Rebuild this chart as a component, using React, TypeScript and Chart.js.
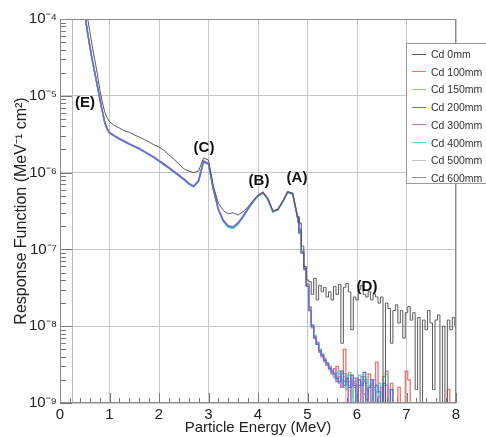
import React, { useEffect, useRef } from "react";
import { Chart, registerables } from "chart.js";

Chart.register(...registerables);

// Bin centres (MeV)
const energies = [
  0.4, 0.45, 0.5, 0.55, 0.6, 0.65, 0.7, 0.75, 0.8, 0.85, 0.9, 0.95, 1.0,
  1.1, 1.2, 1.3, 1.4, 1.5, 1.6, 1.7, 1.8, 1.9, 2.0,
  2.1, 2.2, 2.3, 2.4, 2.5, 2.6, 2.7, 2.8, 2.9, 3.0,
  3.1, 3.2, 3.3, 3.4, 3.5, 3.6, 3.7, 3.8, 3.9, 4.0,
  4.1, 4.2, 4.3, 4.4, 4.5, 4.6, 4.7, 4.8,
  4.85, 4.9, 4.95,
  5.0, 5.05, 5.1, 5.15, 5.2, 5.25, 5.3, 5.35, 5.4, 5.45,
  5.5, 5.55, 5.6, 5.65, 5.7, 5.75, 5.8, 5.85, 5.9, 5.95,
  6.0, 6.05, 6.1, 6.15, 6.2, 6.25, 6.3, 6.35, 6.4, 6.45,
  6.5, 6.55, 6.6, 6.65, 6.7, 6.75, 6.8, 6.85, 6.9, 6.95,
  7.0, 7.05, 7.1, 7.15, 7.2, 7.25, 7.3, 7.35, 7.4, 7.45,
  7.5, 7.55, 7.6, 7.65, 7.7, 7.75, 7.8, 7.85, 7.9, 7.95,
  8.0,
];
// index of 4.8 MeV: below it the spectrum is drawn as a smooth trace, above it as histogram steps
const smoothEndIndex = 50;

const cd0mm = [
  5e-4, 3e-4, 1.8e-4, 1.1e-4, 7e-5, 4.5e-5, 3e-5, 2e-5, 1.25e-5, 8.5e-6, 6.3e-6, 5.2e-6, 4.6e-6,
  4.1e-6, 3.8e-6, 3.5e-6, 3.35e-6, 3.1e-6, 2.9e-6, 2.7e-6, 2.5e-6, 2.3e-6, 2.15e-6,
  1.95e-6, 1.7e-6, 1.5e-6, 1.3e-6, 1.12e-6, 1.05e-6, 1.0e-6, 1.05e-6, 1.55e-6, 1.45e-6,
  6.6e-7, 4e-7, 3.2e-7, 2.9e-7, 3e-7, 2.8e-7, 3.1e-7, 3.6e-7, 4.3e-7, 5.1e-7,
  5.5e-7, 4.6e-7, 3.2e-7, 3.3e-7, 4.2e-7, 5.6e-7, 5.4e-7, 2.7e-7,
  2.2e-7, 1.1e-7, 6e-8,
  4e-8, 3.8e-8, 2.6e-8, 4.2e-8, 2.2e-8, 3.4e-8, 2.8e-8, 3.2e-8, 2.4e-8, 2.8e-8,
  2.2e-8, 3.3e-8, 2.6e-8, 3.5e-8, 6e-9, 3.2e-8, 3.6e-8, 2.8e-8, 9e-9, 2.4e-8,
  2.2e-8, 3e-8, 3.4e-8, 2.6e-8, 2.4e-8, 2.8e-8, 2.2e-8, 2.6e-8, 2.4e-8, 2e-8,
  2.4e-8, 8e-10, 2e-8, 1.7e-8, 6e-9, 1.6e-8, 1.9e-8, 1.1e-8, 1.6e-8, 7e-9,
  1.5e-8, 1.8e-8, 1.2e-8, 1.5e-8, 1.5e-9, 1.3e-8, 8e-10, 1.2e-8, 9e-9, 1.6e-8,
  1.1e-8, 1.5e-9, 1.2e-8, 1.4e-8, 8e-10, 1e-8, 8e-10, 1.2e-8, 9e-9, 1.3e-8,
  1e-8,
];

const cd100mm = [
  3.6e-4, 2.1e-4, 1.2e-4, 7.2e-5, 4.6e-5, 3e-5, 2.05e-5, 1.4e-5, 9.6e-6, 6.6e-6, 4.7e-6, 3.75e-6, 3.35e-6,
  3.02e-6, 2.77e-6, 2.57e-6, 2.36e-6, 2.21e-6, 2.06e-6, 1.9e-6, 1.73e-6, 1.58e-6, 1.43e-6,
  1.29e-6, 1.16e-6, 1.04e-6, 9.3e-7, 8.3e-7, 7.3e-7, 6.7e-7, 7.9e-7, 1.42e-6, 1.32e-6,
  6.1e-7, 3.35e-7, 2.4e-7, 2e-7, 1.92e-7, 2.2e-7, 2.72e-7, 3.42e-7, 4.22e-7, 5.02e-7,
  5.55e-7, 4.5e-7, 3.1e-7, 3.32e-7, 4.22e-7, 5.65e-7, 5.3e-7, 2.6e-7,
  1.7e-7, 9e-8, 5.5e-8,
  3.4e-8, 1.7e-8, 9.5e-9, 7e-9, 6e-9, 5e-9, 4.2e-9, 3.8e-9, 3.3e-9, 3e-9,
  2.6e-9, 2.2e-9, 3e-9, 1.8e-9, 2.4e-9, 5e-9, 2e-9, 2.3e-9, 1.2e-9, 1.9e-9,
  1.7e-9, 1e-9, 2.2e-9, 1.3e-9, 1.8e-9, 2.4e-9, 1.1e-9, 1.6e-9, 3.4e-9, 1.8e-9,
  5e-10, 2.2e-9, 2.6e-9, 5e-10, 1.8e-9, 5e-10, 5e-10, 1.6e-9, 5e-10, 5e-10,
  2.6e-9, 2e-9, 5e-10, 5e-10, 5e-10, 5e-10, 5e-10, 5e-10, 5e-10, 5e-10,
  5e-10, 5e-10, 5e-10, 5e-10, 5e-10, 5e-10, 5e-10, 1.5e-9, 5e-10, 5e-10,
  5e-10,
];

const cd150mm = [
  3.5e-4, 2e-4, 1.18e-4, 7e-5, 4.5e-5, 2.9e-5, 2e-5, 1.38e-5, 9.4e-6, 6.4e-6, 4.55e-6, 3.68e-6, 3.28e-6,
  2.98e-6, 2.73e-6, 2.53e-6, 2.33e-6, 2.18e-6, 2.03e-6, 1.86e-6, 1.71e-6, 1.56e-6, 1.41e-6,
  1.27e-6, 1.14e-6, 1.02e-6, 9.1e-7, 8.1e-7, 7.1e-7, 6.5e-7, 7.7e-7, 1.38e-6, 1.28e-6,
  5.9e-7, 3.25e-7, 2.3e-7, 1.96e-7, 1.9e-7, 2.15e-7, 2.65e-7, 3.35e-7, 4.15e-7, 4.9e-7,
  5.4e-7, 4.4e-7, 3.05e-7, 3.25e-7, 4.1e-7, 5.5e-7, 5.2e-7, 2.55e-7,
  1.6e-7, 9.5e-8, 5.8e-8,
  3.6e-8, 1.8e-8, 1.05e-8, 7.5e-9, 6e-9, 5e-9, 4.3e-9, 3.7e-9, 3.2e-9, 2.9e-9,
  2.7e-9, 2.3e-9, 2e-9, 2.6e-9, 1.8e-9, 2.2e-9, 1.5e-9, 2.5e-9, 1.8e-9, 1e-9,
  2e-9, 1.6e-9, 1e-9, 2.2e-9, 1.7e-9, 5e-10, 1.8e-9, 1e-9, 1.4e-9, 5e-10,
  1.6e-9, 5e-10, 5e-10, 1.5e-9, 5e-10, 5e-10, 5e-10, 5e-10, 5e-10, 5e-10,
  5e-10, 5e-10, 5e-10, 5e-10, 5e-10, 5e-10, 5e-10, 5e-10, 5e-10, 5e-10,
  5e-10, 5e-10, 5e-10, 5e-10, 5e-10, 5e-10, 5e-10, 5e-10, 5e-10, 5e-10,
  5e-10,
];

const cd200mm = [
  3.5e-4, 2e-4, 1.2e-4, 7e-5, 4.5e-5, 3e-5, 2.05e-5, 1.4e-5, 9.5e-6, 6.5e-6, 4.6e-6, 3.7e-6, 3.3e-6,
  3.0e-6, 2.75e-6, 2.55e-6, 2.35e-6, 2.2e-6, 2.05e-6, 1.88e-6, 1.72e-6, 1.57e-6, 1.42e-6,
  1.28e-6, 1.15e-6, 1.03e-6, 9.2e-7, 8.2e-7, 7.2e-7, 6.6e-7, 7.8e-7, 1.4e-6, 1.3e-6,
  6e-7, 3.3e-7, 2.35e-7, 2e-7, 1.95e-7, 2.2e-7, 2.7e-7, 3.4e-7, 4.2e-7, 5e-7,
  5.5e-7, 4.5e-7, 3.1e-7, 3.3e-7, 4.2e-7, 5.6e-7, 5.3e-7, 2.6e-7,
  1.65e-7, 9e-8, 5.6e-8,
  3.3e-8, 1.6e-8, 1e-8, 7.2e-9, 5.8e-9, 4.8e-9, 4.2e-9, 3.6e-9, 3.3e-9, 2.8e-9,
  2.6e-9, 2.4e-9, 2.1e-9, 1.9e-9, 2.6e-9, 1.7e-9, 2.1e-9, 1.6e-9, 2.3e-9, 1.7e-9,
  1e-9, 2e-9, 1.7e-9, 2.5e-9, 1.1e-9, 1.6e-9, 2e-9, 5e-10, 1.7e-9, 1.4e-9,
  5e-10, 1.8e-9, 5e-10, 5e-10, 1.5e-9, 5e-10, 5e-10, 5e-10, 5e-10, 5e-10,
  5e-10, 5e-10, 5e-10, 5e-10, 5e-10, 5e-10, 5e-10, 5e-10, 5e-10, 5e-10,
  5e-10, 5e-10, 5e-10, 5e-10, 5e-10, 5e-10, 5e-10, 5e-10, 5e-10, 5e-10,
  5e-10,
];

const cd300mm = [
  3.6e-4, 2.05e-4, 1.22e-4, 7.1e-5, 4.6e-5, 3e-5, 2.08e-5, 1.42e-5, 9.7e-6, 6.6e-6, 4.7e-6, 3.76e-6, 3.34e-6,
  3.03e-6, 2.78e-6, 2.58e-6, 2.38e-6, 2.22e-6, 2.07e-6, 1.9e-6, 1.74e-6, 1.59e-6, 1.44e-6,
  1.3e-6, 1.17e-6, 1.05e-6, 9.35e-7, 8.3e-7, 7.3e-7, 6.7e-7, 7.95e-7, 1.43e-6, 1.33e-6,
  6.1e-7, 3.4e-7, 2.4e-7, 2.05e-7, 1.97e-7, 2.25e-7, 2.75e-7, 3.45e-7, 4.25e-7, 5.05e-7,
  5.55e-7, 4.55e-7, 3.15e-7, 3.35e-7, 4.25e-7, 5.65e-7, 5.4e-7, 2.65e-7,
  1.75e-7, 9.2e-8, 5.4e-8,
  3.5e-8, 1.75e-8, 1e-8, 7e-9, 6.2e-9, 4.6e-9, 4e-9, 3.6e-9, 3.1e-9, 2.9e-9,
  2.4e-9, 2.8e-9, 1.9e-9, 2.2e-9, 1.6e-9, 2.4e-9, 1.9e-9, 1e-9, 2e-9, 1.6e-9,
  2.1e-9, 1.7e-9, 1e-9, 1.9e-9, 1.5e-9, 5e-10, 1.7e-9, 2e-9, 5e-10, 1.2e-9,
  1.6e-9, 5e-10, 1.7e-9, 5e-10, 5e-10, 5e-10, 5e-10, 5e-10, 5e-10, 5e-10,
  5e-10, 5e-10, 5e-10, 5e-10, 5e-10, 5e-10, 5e-10, 5e-10, 5e-10, 5e-10,
  5e-10, 5e-10, 5e-10, 5e-10, 5e-10, 5e-10, 5e-10, 5e-10, 5e-10, 5e-10,
  5e-10,
];

const cd400mm = [
  3.4e-4, 1.95e-4, 1.17e-4, 6.9e-5, 4.4e-5, 2.9e-5, 2e-5, 1.37e-5, 9.3e-6, 6.4e-6, 4.5e-6, 3.65e-6, 3.27e-6,
  2.97e-6, 2.72e-6, 2.52e-6, 2.32e-6, 2.17e-6, 2.02e-6, 1.86e-6, 1.7e-6, 1.55e-6, 1.4e-6,
  1.26e-6, 1.13e-6, 1.01e-6, 9.05e-7, 8.05e-7, 7.1e-7, 6.5e-7, 7.65e-7, 1.37e-6, 1.27e-6,
  5.9e-7, 3.25e-7, 2.3e-7, 1.92e-7, 1.87e-7, 2.12e-7, 2.62e-7, 3.32e-7, 4.12e-7, 4.95e-7,
  5.45e-7, 4.45e-7, 3.05e-7, 3.25e-7, 4.15e-7, 5.5e-7, 5.25e-7, 2.55e-7,
  1.7e-7, 9.4e-8, 5.7e-8,
  3.5e-8, 1.8e-8, 1.05e-8, 7.6e-9, 6e-9, 5e-9, 4.4e-9, 3.6e-9, 3.2e-9, 3e-9,
  2.5e-9, 2.2e-9, 2.5e-9, 1.8e-9, 2e-9, 1.6e-9, 2.3e-9, 1.9e-9, 1e-9, 2.1e-9,
  1.9e-9, 2.3e-9, 1.6e-9, 1e-9, 2e-9, 1.7e-9, 5e-10, 1.5e-9, 5e-10, 1.8e-9,
  5e-10, 1.7e-9, 2.4e-9, 5e-10, 5e-10, 5e-10, 5e-10, 5e-10, 5e-10, 5e-10,
  5e-10, 5e-10, 5e-10, 5e-10, 5e-10, 5e-10, 5e-10, 5e-10, 5e-10, 5e-10,
  5e-10, 5e-10, 5e-10, 5e-10, 5e-10, 5e-10, 5e-10, 5e-10, 5e-10, 5e-10,
  5e-10,
];

const cd500mm = [
  3.5e-4, 2e-4, 1.19e-4, 7e-5, 4.5e-5, 2.95e-5, 2.02e-5, 1.39e-5, 9.45e-6, 6.45e-6, 4.58e-6, 3.7e-6, 3.3e-6,
  2.99e-6, 2.74e-6, 2.54e-6, 2.34e-6, 2.19e-6, 2.04e-6, 1.87e-6, 1.71e-6, 1.56e-6, 1.41e-6,
  1.27e-6, 1.14e-6, 1.02e-6, 9.1e-7, 8.1e-7, 7.15e-7, 6.55e-7, 7.75e-7, 1.39e-6, 1.29e-6,
  5.95e-7, 3.28e-7, 2.33e-7, 1.98e-7, 1.92e-7, 2.18e-7, 2.68e-7, 3.38e-7, 4.18e-7, 4.98e-7,
  5.48e-7, 4.48e-7, 3.08e-7, 3.28e-7, 4.18e-7, 5.55e-7, 5.28e-7, 2.58e-7,
  1.65e-7, 9.1e-8, 5.5e-8,
  3.4e-8, 1.7e-8, 9.8e-9, 7e-9, 5.8e-9, 4.6e-9, 4e-9, 3.4e-9, 3.1e-9, 2.7e-9,
  2.4e-9, 2.1e-9, 1.9e-9, 2.2e-9, 1.7e-9, 2e-9, 1e-9, 1.7e-9, 1.6e-9, 5e-10,
  1.6e-9, 5e-10, 1.8e-9, 5e-10, 1.2e-9, 5e-10, 5e-10, 5e-10, 5e-10, 5e-10,
  5e-10, 5e-10, 5e-10, 5e-10, 5e-10, 5e-10, 5e-10, 5e-10, 5e-10, 5e-10,
  5e-10, 5e-10, 5e-10, 5e-10, 5e-10, 5e-10, 5e-10, 5e-10, 5e-10, 5e-10,
  5e-10, 5e-10, 5e-10, 5e-10, 5e-10, 5e-10, 5e-10, 5e-10, 5e-10, 5e-10,
  5e-10,
];

const cd600mm = [
  3.55e-4, 2.02e-4, 1.21e-4, 7.05e-5, 4.55e-5, 3e-5, 2.05e-5, 1.4e-5, 9.5e-6, 6.5e-6, 4.6e-6, 3.7e-6, 3.3e-6,
  3.0e-6, 2.75e-6, 2.55e-6, 2.35e-6, 2.2e-6, 2.05e-6, 1.88e-6, 1.72e-6, 1.57e-6, 1.42e-6,
  1.28e-6, 1.15e-6, 1.03e-6, 9.2e-7, 8.2e-7, 7.2e-7, 6.6e-7, 7.8e-7, 1.41e-6, 1.31e-6,
  6e-7, 3.3e-7, 2.35e-7, 2e-7, 1.93e-7, 2.2e-7, 2.7e-7, 3.4e-7, 4.2e-7, 5e-7,
  5.5e-7, 4.5e-7, 3.1e-7, 3.3e-7, 4.2e-7, 5.6e-7, 5.3e-7, 2.6e-7,
  1.7e-7, 9e-8, 5.6e-8,
  3.4e-8, 1.75e-8, 1e-8, 7.1e-9, 5.9e-9, 4.8e-9, 4.1e-9, 3.5e-9, 3.2e-9, 2.8e-9,
  2.5e-9, 2.3e-9, 2e-9, 2.4e-9, 1.6e-9, 1.9e-9, 2.1e-9, 1e-9, 1.7e-9, 1.8e-9,
  5e-10, 1.7e-9, 1.4e-9, 2e-9, 5e-10, 1.6e-9, 5e-10, 5e-10, 5e-10, 5e-10,
  5e-10, 5e-10, 5e-10, 5e-10, 5e-10, 5e-10, 5e-10, 5e-10, 5e-10, 5e-10,
  5e-10, 5e-10, 5e-10, 5e-10, 5e-10, 5e-10, 5e-10, 5e-10, 5e-10, 5e-10,
  5e-10, 5e-10, 5e-10, 5e-10, 5e-10, 5e-10, 5e-10, 5e-10, 5e-10, 5e-10,
  5e-10,
];

const seriesNames = ["Cd 0mm", "Cd 100mm", "Cd 150mm", "Cd 200mm", "Cd 300mm", "Cd 400mm", "Cd 500mm", "Cd 600mm"];
const seriesValues = [cd0mm, cd100mm, cd150mm, cd200mm, cd300mm, cd400mm, cd500mm, cd600mm];
const seriesColors = ["#5a5a5a", "#e8766e", "#74d474", "#5d6fd8", "#d46ad0", "#4fd8d0", "#c4c4cc", "#8a8a9a"];
// drawing order (lower = drawn on top)
const seriesOrder = [0, 5, 4, 1, 2, 3, 6, 7];

const xTicks = [0, 1, 2, 3, 4, 5, 6, 7, 8];
const yTicks = [1e-9, 1e-8, 1e-7, 1e-6, 1e-5, 1e-4];
const yTickLabels = ["10⁻⁹", "10⁻⁸", "10⁻⁷", "10⁻⁶", "10⁻⁵", "10⁻⁴"];
const thresholdEnergy = 0.25;

const peakLabels = [
  { text: "(E)", left: 85, top: 101 },
  { text: "(C)", left: 204, top: 146 },
  { text: "(B)", left: 259, top: 179 },
  { text: "(A)", left: 297, top: 176 },
  { text: "(D)", left: 367, top: 285 },
];

const FONT = "'Liberation Sans', Arial, Helvetica, sans-serif";

const framePlugin = {
  id: "frameTicks",
  beforeDatasetsDraw(chart: any) {
    const { ctx, chartArea: a, scales } = chart;
    const x = scales.x.getPixelForValue(thresholdEnergy);
    ctx.save();
    ctx.strokeStyle = "#b4b8dc";
    ctx.lineWidth = 1;
    ctx.beginPath();
    ctx.moveTo(Math.round(x) + 0.5, a.top);
    ctx.lineTo(Math.round(x) + 0.5, a.bottom);
    ctx.stroke();
    ctx.restore();
  },
  afterDatasetsDraw(chart: any) {
    const { ctx, chartArea: a, scales } = chart;
    ctx.save();
    ctx.strokeStyle = "#777";
    ctx.lineWidth = 1;
    ctx.beginPath();
    for (let i = 0; i <= 40; i++) {
      const v = i * 0.2;
      const px = Math.round(scales.x.getPixelForValue(v)) + 0.5;
      const len = i % 5 === 0 ? 10 : 5;
      ctx.moveTo(px, a.bottom);
      ctx.lineTo(px, a.bottom - len);
    }
    for (let d = -9; d < -4; d++) {
      for (let m = 1; m <= 9; m++) {
        const v = m * Math.pow(10, d);
        const py = Math.round(scales.y.getPixelForValue(v)) + 0.5;
        const len = m === 1 ? 12 : 6;
        ctx.moveTo(a.left, py);
        ctx.lineTo(a.left + len, py);
      }
    }
    ctx.stroke();
    ctx.strokeStyle = "#8c8c8c";
    ctx.strokeRect(a.left + 0.5, a.top + 0.5, a.right - a.left - 1, a.bottom - a.top - 1);
    ctx.restore();
  },
};

export default function App() {
  const canvasRef = useRef<HTMLCanvasElement | null>(null);

  useEffect(() => {
    if (!canvasRef.current) return;
    const datasets: any[] = [];
    seriesValues.forEach((vals, si) => {
      const pts = energies.map((e, i) => ({ x: e, y: vals[i] }));
      const common = {
        borderColor: seriesColors[si],
        backgroundColor: seriesColors[si],
        borderWidth: si === 0 ? 1 : 1.3,
        pointRadius: 0,
        fill: false,
        order: seriesOrder[si],
      };
      datasets.push({ ...common, label: seriesNames[si], data: pts.slice(0, smoothEndIndex + 2), stepped: false });
      datasets.push({ ...common, label: seriesNames[si] + " tail", data: pts.slice(smoothEndIndex), stepped: "middle" });
    });
    const chart = new Chart(canvasRef.current, {
      type: "line",
      data: { datasets },
      options: {
        animation: false,
        responsive: true,
        maintainAspectRatio: false,
        layout: { padding: { left: 6, top: 19, right: 30, bottom: 0 } },
        plugins: {
          legend: { display: false },
          tooltip: { enabled: false },
        },
        scales: {
          x: {
            type: "linear",
            min: 0,
            max: 8,
            afterBuildTicks: (s: any) => {
              s.ticks = xTicks.map((v) => ({ value: v }));
            },
            afterFit: (s: any) => {
              s.height = 34;
            },
            grid: { color: "#c6c6cc", drawTicks: false, lineWidth: 1 },
            border: { display: false },
            ticks: {
              padding: 3,
              color: "#222",
              font: { family: FONT, size: 15 },
              maxRotation: 0,
            },
            title: {
              display: true,
              text: "Particle Energy (MeV)",
              color: "#222",
              font: { family: FONT, size: 15 },
              padding: { top: 0, bottom: 0 },
            },
          },
          y: {
            type: "logarithmic",
            min: 1e-9,
            max: 1e-4,
            afterBuildTicks: (s: any) => {
              s.ticks = yTicks.map((v) => ({ value: v }));
            },
            afterFit: (s: any) => {
              s.width = 54;
            },
            grid: { color: "#c6c6cc", drawTicks: false, lineWidth: 1 },
            border: { display: false },
            ticks: {
              padding: 3,
              color: "#222",
              font: { family: FONT, size: 15 },
              callback: (v: any) => {
                const idx = yTicks.indexOf(Number(v));
                return idx >= 0 ? yTickLabels[idx] : "";
              },
            },
            title: {
              display: true,
              text: "Response Function (MeV⁻¹ cm²)",
              color: "#222",
              font: { family: FONT, size: 16 },
              padding: { top: 6, bottom: 0 },
            },
          },
        },
      },
      plugins: [framePlugin],
    });
    return () => chart.destroy();
  }, []);

  return (
    <div style={{ position: "fixed", left: 0, top: 0, width: 486, height: 437, background: "#fff", overflow: "hidden" }}>
      <canvas ref={canvasRef} />
      {peakLabels.map((p) => (
        <span
          key={p.text}
          style={{
            position: "absolute",
            left: p.left,
            top: p.top,
            transform: "translate(-50%, -50%)",
            fontFamily: FONT,
            fontWeight: "bold",
            fontSize: 15,
            color: "#111",
            lineHeight: 1,
            whiteSpace: "nowrap",
          }}
        >
          {p.text}
        </span>
      ))}
      <div
        style={{
          position: "absolute",
          left: 406,
          top: 43,
          width: 90,
          height: 141,
          border: "1px solid #9a9a9a",
          background: "#fff",
          boxSizing: "border-box",
        }}
      >
        {seriesNames.map((n, i) => (
          <div
            key={n}
            style={{
              position: "absolute",
              left: 0,
              top: 2 + i * 17.7,
              height: 16,
              display: "flex",
              alignItems: "center",
              fontFamily: FONT,
              fontSize: 10.5,
              color: "#333",
              whiteSpace: "nowrap",
            }}
          >
            <span style={{ display: "inline-block", width: 14, height: 0, borderTop: `1px solid ${seriesColors[i]}`, marginLeft: 5, marginRight: 5 }} />
            {n}
          </div>
        ))}
      </div>
    </div>
  );
}
